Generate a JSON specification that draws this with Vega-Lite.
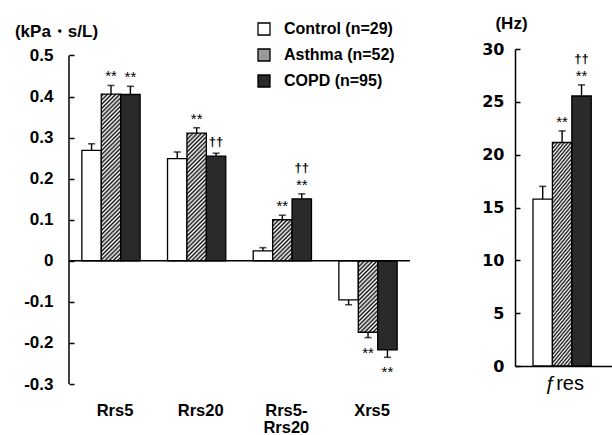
{
  "$schema": "https://vega.github.io/schema/vega-lite/v6.json",
  "padding": {"left": 14, "top": 14, "right": 0, "bottom": 0},
  "bounds": "flush",
  "spacing": 105,
  "config": {
    "view": {"stroke": null},
    "font": "Liberation Sans",
    "axis": {"labelColor": "black", "titleColor": "black", "domainColor": "black", "tickColor": "black", "grid": false},
    "legend": {"padding": 0}
  },
  "params": [
    {
      "name": "hatch",
      "value": {
        "gradient": "linear", "x1": 0, "y1": 0, "x2": 1, "y2": 1,
        "stops": [
          {"offset": 0, "color": "#fff"}, {"offset": 0.0083, "color": "#111"}, {"offset": 0.0167, "color": "#fff"}, {"offset": 0.025, "color": "#111"}, {"offset": 0.0333, "color": "#fff"}, {"offset": 0.0417, "color": "#111"},
          {"offset": 0.05, "color": "#fff"}, {"offset": 0.0583, "color": "#111"}, {"offset": 0.0667, "color": "#fff"}, {"offset": 0.075, "color": "#111"}, {"offset": 0.0833, "color": "#fff"}, {"offset": 0.0917, "color": "#111"},
          {"offset": 0.1, "color": "#fff"}, {"offset": 0.1083, "color": "#111"}, {"offset": 0.1167, "color": "#fff"}, {"offset": 0.125, "color": "#111"}, {"offset": 0.1333, "color": "#fff"}, {"offset": 0.1417, "color": "#111"},
          {"offset": 0.15, "color": "#fff"}, {"offset": 0.1583, "color": "#111"}, {"offset": 0.1667, "color": "#fff"}, {"offset": 0.175, "color": "#111"}, {"offset": 0.1833, "color": "#fff"}, {"offset": 0.1917, "color": "#111"},
          {"offset": 0.2, "color": "#fff"}, {"offset": 0.2083, "color": "#111"}, {"offset": 0.2167, "color": "#fff"}, {"offset": 0.225, "color": "#111"}, {"offset": 0.2333, "color": "#fff"}, {"offset": 0.2417, "color": "#111"},
          {"offset": 0.25, "color": "#fff"}, {"offset": 0.2583, "color": "#111"}, {"offset": 0.2667, "color": "#fff"}, {"offset": 0.275, "color": "#111"}, {"offset": 0.2833, "color": "#fff"}, {"offset": 0.2917, "color": "#111"},
          {"offset": 0.3, "color": "#fff"}, {"offset": 0.3083, "color": "#111"}, {"offset": 0.3167, "color": "#fff"}, {"offset": 0.325, "color": "#111"}, {"offset": 0.3333, "color": "#fff"}, {"offset": 0.3417, "color": "#111"},
          {"offset": 0.35, "color": "#fff"}, {"offset": 0.3583, "color": "#111"}, {"offset": 0.3667, "color": "#fff"}, {"offset": 0.375, "color": "#111"}, {"offset": 0.3833, "color": "#fff"}, {"offset": 0.3917, "color": "#111"},
          {"offset": 0.4, "color": "#fff"}, {"offset": 0.4083, "color": "#111"}, {"offset": 0.4167, "color": "#fff"}, {"offset": 0.425, "color": "#111"}, {"offset": 0.4333, "color": "#fff"}, {"offset": 0.4417, "color": "#111"},
          {"offset": 0.45, "color": "#fff"}, {"offset": 0.4583, "color": "#111"}, {"offset": 0.4667, "color": "#fff"}, {"offset": 0.475, "color": "#111"}, {"offset": 0.4833, "color": "#fff"}, {"offset": 0.4917, "color": "#111"},
          {"offset": 0.5, "color": "#fff"}, {"offset": 0.5083, "color": "#111"}, {"offset": 0.5167, "color": "#fff"}, {"offset": 0.525, "color": "#111"}, {"offset": 0.5333, "color": "#fff"}, {"offset": 0.5417, "color": "#111"},
          {"offset": 0.55, "color": "#fff"}, {"offset": 0.5583, "color": "#111"}, {"offset": 0.5667, "color": "#fff"}, {"offset": 0.575, "color": "#111"}, {"offset": 0.5833, "color": "#fff"}, {"offset": 0.5917, "color": "#111"},
          {"offset": 0.6, "color": "#fff"}, {"offset": 0.6083, "color": "#111"}, {"offset": 0.6167, "color": "#fff"}, {"offset": 0.625, "color": "#111"}, {"offset": 0.6333, "color": "#fff"}, {"offset": 0.6417, "color": "#111"},
          {"offset": 0.65, "color": "#fff"}, {"offset": 0.6583, "color": "#111"}, {"offset": 0.6667, "color": "#fff"}, {"offset": 0.675, "color": "#111"}, {"offset": 0.6833, "color": "#fff"}, {"offset": 0.6917, "color": "#111"},
          {"offset": 0.7, "color": "#fff"}, {"offset": 0.7083, "color": "#111"}, {"offset": 0.7167, "color": "#fff"}, {"offset": 0.725, "color": "#111"}, {"offset": 0.7333, "color": "#fff"}, {"offset": 0.7417, "color": "#111"},
          {"offset": 0.75, "color": "#fff"}, {"offset": 0.7583, "color": "#111"}, {"offset": 0.7667, "color": "#fff"}, {"offset": 0.775, "color": "#111"}, {"offset": 0.7833, "color": "#fff"}, {"offset": 0.7917, "color": "#111"},
          {"offset": 0.8, "color": "#fff"}, {"offset": 0.8083, "color": "#111"}, {"offset": 0.8167, "color": "#fff"}, {"offset": 0.825, "color": "#111"}, {"offset": 0.8333, "color": "#fff"}, {"offset": 0.8417, "color": "#111"},
          {"offset": 0.85, "color": "#fff"}, {"offset": 0.8583, "color": "#111"}, {"offset": 0.8667, "color": "#fff"}, {"offset": 0.875, "color": "#111"}, {"offset": 0.8833, "color": "#fff"}, {"offset": 0.8917, "color": "#111"},
          {"offset": 0.9, "color": "#fff"}, {"offset": 0.9083, "color": "#111"}, {"offset": 0.9167, "color": "#fff"}, {"offset": 0.925, "color": "#111"}, {"offset": 0.9333, "color": "#fff"}, {"offset": 0.9417, "color": "#111"},
          {"offset": 0.95, "color": "#fff"}, {"offset": 0.9583, "color": "#111"}, {"offset": 0.9667, "color": "#fff"}, {"offset": 0.975, "color": "#111"}, {"offset": 0.9833, "color": "#fff"}, {"offset": 0.9917, "color": "#111"},
          {"offset": 1, "color": "#fff"}
        ]
      }
    }
  ],
  "datasets": {
    "resistance": [
      {"measure": "Rrs5", "group": "Control (n=29)", "mean": 0.269, "err": 0.285, "stars": "", "daggers": ""},
      {"measure": "Rrs5", "group": "Asthma (n=52)", "mean": 0.406, "err": 0.427, "stars": "**", "daggers": ""},
      {"measure": "Rrs5", "group": "COPD (n=95)", "mean": 0.405, "err": 0.425, "stars": "**", "daggers": ""},
      {"measure": "Rrs20", "group": "Control (n=29)", "mean": 0.249, "err": 0.265, "stars": "", "daggers": ""},
      {"measure": "Rrs20", "group": "Asthma (n=52)", "mean": 0.311, "err": 0.324, "stars": "**", "daggers": ""},
      {"measure": "Rrs20", "group": "COPD (n=95)", "mean": 0.255, "err": 0.262, "stars": "", "daggers": "††"},
      {"measure": "Rrs5-Rrs20", "group": "Control (n=29)", "mean": 0.024, "err": 0.032, "stars": "", "daggers": ""},
      {"measure": "Rrs5-Rrs20", "group": "Asthma (n=52)", "mean": 0.1, "err": 0.111, "stars": "**", "daggers": ""},
      {"measure": "Rrs5-Rrs20", "group": "COPD (n=95)", "mean": 0.151, "err": 0.163, "stars": "**", "daggers": "††"},
      {"measure": "Xrs5", "group": "Control (n=29)", "mean": -0.095, "err": -0.107, "stars": "", "daggers": ""},
      {"measure": "Xrs5", "group": "Asthma (n=52)", "mean": -0.174, "err": -0.187, "stars": "**", "daggers": ""},
      {"measure": "Xrs5", "group": "COPD (n=95)", "mean": -0.217, "err": -0.235, "stars": "**", "daggers": ""}
    ],
    "resonance": [
      {"measure": "ƒres", "group": "Control (n=29)", "mean": 15.8, "err": 17.0, "stars": "", "daggers": ""},
      {"measure": "ƒres", "group": "Asthma (n=52)", "mean": 21.15, "err": 22.25, "stars": "**", "daggers": ""},
      {"measure": "ƒres", "group": "COPD (n=95)", "mean": 25.55, "err": 26.6, "stars": "**", "daggers": "††"}
    ]
  },
  "hconcat": [
    {
      "width": 341,
      "height": 335,
      "layer": [
        {
          "data": {"name": "resistance"},
          "mark": {"type": "bar", "stroke": "black", "strokeWidth": 1.3},
          "encoding": {
            "x": {
              "field": "measure", "type": "nominal", "sort": ["Rrs5", "Rrs20", "Rrs5-Rrs20", "Xrs5"],
              "scale": {"paddingInner": 0.32, "paddingOuter": 0.15},
              "axis": {
                "title": null, "domain": false, "ticks": false, "labelAngle": 0,
                "labelFontSize": 16.5, "labelFontWeight": "bold", "labelPadding": 18, "labelOffset": 4,
                "labelLineHeight": 17, "labelBaseline": "top",
                "labelExpr": "datum.value == 'Rrs5-Rrs20' ? ['Rrs5-', 'Rrs20'] : datum.value"
              }
            },
            "xOffset": {"field": "group", "type": "nominal", "sort": ["Control (n=29)", "Asthma (n=52)", "COPD (n=95)"], "scale": {"paddingInner": 0, "paddingOuter": 0}},
            "y": {
              "field": "mean", "type": "quantitative",
              "scale": {"domain": [-0.3, 0.5158], "nice": false, "zero": false},
              "axis": {
                "title": "(kPa・s/L)", "titleAngle": 0, "titleX": -13, "titleY": -18, "titleAlign": "center", "titleBaseline": "middle",
                "titleFontSize": 17, "titleFontWeight": "bold",
                "values": [-0.3, -0.2, -0.1, 0, 0.1, 0.2, 0.3, 0.4, 0.5],
                "labelExpr": "'' + round(datum.value * 10) / 10",
                "labelFontSize": 17, "labelFontWeight": "bold", "labelPadding": 21,
                "tickSize": -5, "tickWidth": 1.5, "domain": false
              }
            },
            "y2": {"datum": 0},
            "fill": {
              "field": "group", "type": "nominal",
              "scale": {"domain": ["Control (n=29)", "Asthma (n=52)", "COPD (n=95)"], "range": ["#ffffff", "#9a9a9a", "#2a2a2a"]},
              "condition": {
                "test": "datum.group === 'Asthma (n=52)'",
                "value": {"expr": "merge(hatch, {x2: 19.42 * 252 / (377.1 + pow(410.6 * datum.mean, 2)), y2: abs(410.6 * datum.mean) * 252 / (377.1 + pow(410.6 * datum.mean, 2))})"}
              },
              "legend": {
                "title": null, "orient": "none", "legendX": 187, "legendY": -28, "direction": "vertical",
                "symbolType": "square", "symbolSize": 144, "symbolStrokeColor": "black", "symbolStrokeWidth": 1.3,
                "labelFontSize": 16, "labelFontWeight": "bold", "labelColor": "black", "labelOffset": 12, "rowPadding": 8,
                "encode": {
                  "symbols": {
                    "update": {
                      "stroke": {"value": "black"},
                      "strokeWidth": {"value": 1.3},
                      "fill": [
                        {"test": "datum.value === 'Asthma (n=52)'", "signal": "merge(hatch, {x2: 10.5, y2: 10.5})"},
                        {"scale": "fill", "field": "value"}
                      ]
                    }
                  }
                }
              }
            }
          }
        },
        {
          "data": {"name": "resistance"},
          "mark": {"type": "rule", "strokeWidth": 1.4, "color": "black"},
          "encoding": {
            "x": {"field": "measure", "type": "nominal", "sort": ["Rrs5", "Rrs20", "Rrs5-Rrs20", "Xrs5"]},
            "xOffset": {"field": "group", "type": "nominal", "sort": ["Control (n=29)", "Asthma (n=52)", "COPD (n=95)"]},
            "y": {"field": "mean", "type": "quantitative"},
            "y2": {"field": "err"}
          }
        },
        {
          "data": {"name": "resistance"},
          "mark": {"type": "tick", "orient": "horizontal", "size": 7, "thickness": 1.6, "color": "black"},
          "encoding": {
            "x": {"field": "measure", "type": "nominal", "sort": ["Rrs5", "Rrs20", "Rrs5-Rrs20", "Xrs5"]},
            "xOffset": {"field": "group", "type": "nominal", "sort": ["Control (n=29)", "Asthma (n=52)", "COPD (n=95)"]},
            "y": {"field": "err", "type": "quantitative"}
          }
        },
        {
          "data": {"name": "resistance"},
          "transform": [{"filter": "datum.stars != '' && datum.mean > 0"}],
          "mark": {"type": "text", "fontSize": 15, "baseline": "middle", "dy": -9, "color": "black"},
          "encoding": {
            "x": {"field": "measure", "type": "nominal", "sort": ["Rrs5", "Rrs20", "Rrs5-Rrs20", "Xrs5"]},
            "xOffset": {"field": "group", "type": "nominal", "sort": ["Control (n=29)", "Asthma (n=52)", "COPD (n=95)"]},
            "y": {"field": "err", "type": "quantitative"},
            "text": {"field": "stars"}
          }
        },
        {
          "data": {"name": "resistance"},
          "transform": [{"filter": "datum.stars != '' && datum.mean < 0"}],
          "mark": {"type": "text", "fontSize": 15, "baseline": "middle", "dy": 15, "color": "black"},
          "encoding": {
            "x": {"field": "measure", "type": "nominal", "sort": ["Rrs5", "Rrs20", "Rrs5-Rrs20", "Xrs5"]},
            "xOffset": {"field": "group", "type": "nominal", "sort": ["Control (n=29)", "Asthma (n=52)", "COPD (n=95)"]},
            "y": {"field": "err", "type": "quantitative"},
            "text": {"field": "stars"}
          }
        },
        {
          "data": {"name": "resistance"},
          "transform": [{"filter": "datum.daggers != '' && datum.stars != ''"}],
          "mark": {"type": "text", "fontSize": 13, "fontWeight": "bold", "baseline": "middle", "dy": -26, "color": "black"},
          "encoding": {
            "x": {"field": "measure", "type": "nominal", "sort": ["Rrs5", "Rrs20", "Rrs5-Rrs20", "Xrs5"]},
            "xOffset": {"field": "group", "type": "nominal", "sort": ["Control (n=29)", "Asthma (n=52)", "COPD (n=95)"]},
            "y": {"field": "err", "type": "quantitative"},
            "text": {"field": "daggers"}
          }
        },
        {
          "data": {"name": "resistance"},
          "transform": [{"filter": "datum.daggers != '' && datum.stars == ''"}],
          "mark": {"type": "text", "fontSize": 13, "fontWeight": "bold", "baseline": "middle", "dy": -11, "color": "black"},
          "encoding": {
            "x": {"field": "measure", "type": "nominal", "sort": ["Rrs5", "Rrs20", "Rrs5-Rrs20", "Xrs5"]},
            "xOffset": {"field": "group", "type": "nominal", "sort": ["Control (n=29)", "Asthma (n=52)", "COPD (n=95)"]},
            "y": {"field": "err", "type": "quantitative"},
            "text": {"field": "daggers"}
          }
        },
        {
          "data": {"values": [{}]},
          "mark": {"type": "rule", "strokeWidth": 1.5, "color": "black"},
          "encoding": {"y": {"datum": 0, "type": "quantitative"}}
        },
        {
          "data": {"values": [{}]},
          "mark": {"type": "rule", "strokeWidth": 1.5, "color": "black"},
          "encoding": {
            "x": {"value": 0},
            "y": {"datum": -0.3, "type": "quantitative"},
            "y2": {"datum": 0.5}
          }
        }
      ]
    },
    {
      "width": 99,
      "height": 317,
      "layer": [
        {
          "data": {"name": "resonance"},
          "mark": {"type": "bar", "stroke": "black", "strokeWidth": 1.3},
          "encoding": {
            "x": {
              "field": "measure", "type": "nominal",
              "scale": {"paddingInner": 0, "paddingOuter": 0.197, "align": 0.643},
              "axis": {
                "title": null, "domain": true, "domainWidth": 1.5, "ticks": false, "labelAngle": 0,
                "labelFontSize": 20, "labelFontWeight": "normal", "labelPadding": 7, "labelOffset": -4
              }
            },
            "xOffset": {"field": "group", "type": "nominal", "sort": ["Control (n=29)", "Asthma (n=52)", "COPD (n=95)"], "scale": {"paddingInner": 0, "paddingOuter": 0}},
            "y": {
              "field": "mean", "type": "quantitative",
              "scale": {"domain": [0, 30], "nice": false},
              "axis": {
                "title": "(Hz)", "titleAngle": 0, "titleX": -4, "titleY": -26, "titleAlign": "center", "titleBaseline": "middle",
                "titleFontSize": 17, "titleFontWeight": "bold",
                "values": [0, 5, 10, 15, 20, 25, 30],
                "labelFont": "DejaVu Sans", "labelFontSize": 16, "labelFontWeight": "bold", "labelPadding": 16,
                "tickSize": -5, "tickWidth": 1.5, "domain": true, "domainWidth": 1.5
              }
            },
            "y2": {"datum": 0},
            "fill": {
              "condition": [
                {"test": "datum.group === 'Control (n=29)'", "value": "#ffffff"},
                {"test": "datum.group === 'Asthma (n=52)'", "value": {"expr": "merge(hatch, {x2: 23.67 * 252 / (560.3 + pow(10.567 * datum.mean, 2)), y2: 10.567 * datum.mean * 252 / (560.3 + pow(10.567 * datum.mean, 2))})"}}
              ],
              "value": "#2a2a2a"
            }
          }
        },
        {
          "data": {"name": "resonance"},
          "mark": {"type": "rule", "strokeWidth": 1.4, "color": "black"},
          "encoding": {
            "x": {"field": "measure", "type": "nominal"},
            "xOffset": {"field": "group", "type": "nominal", "sort": ["Control (n=29)", "Asthma (n=52)", "COPD (n=95)"]},
            "y": {"field": "mean", "type": "quantitative"},
            "y2": {"field": "err"}
          }
        },
        {
          "data": {"name": "resonance"},
          "mark": {"type": "tick", "orient": "horizontal", "size": 7, "thickness": 1.6, "color": "black"},
          "encoding": {
            "x": {"field": "measure", "type": "nominal"},
            "xOffset": {"field": "group", "type": "nominal", "sort": ["Control (n=29)", "Asthma (n=52)", "COPD (n=95)"]},
            "y": {"field": "err", "type": "quantitative"}
          }
        },
        {
          "data": {"name": "resonance"},
          "transform": [{"filter": "datum.stars != ''"}],
          "mark": {"type": "text", "fontSize": 15, "baseline": "middle", "dy": -9, "color": "black"},
          "encoding": {
            "x": {"field": "measure", "type": "nominal"},
            "xOffset": {"field": "group", "type": "nominal", "sort": ["Control (n=29)", "Asthma (n=52)", "COPD (n=95)"]},
            "y": {"field": "err", "type": "quantitative"},
            "text": {"field": "stars"}
          }
        },
        {
          "data": {"name": "resonance"},
          "transform": [{"filter": "datum.daggers != ''"}],
          "mark": {"type": "text", "fontSize": 13, "fontWeight": "bold", "baseline": "middle", "dy": -26, "color": "black"},
          "encoding": {
            "x": {"field": "measure", "type": "nominal"},
            "xOffset": {"field": "group", "type": "nominal", "sort": ["Control (n=29)", "Asthma (n=52)", "COPD (n=95)"]},
            "y": {"field": "err", "type": "quantitative"},
            "text": {"field": "daggers"}
          }
        }
      ]
    }
  ]
}
